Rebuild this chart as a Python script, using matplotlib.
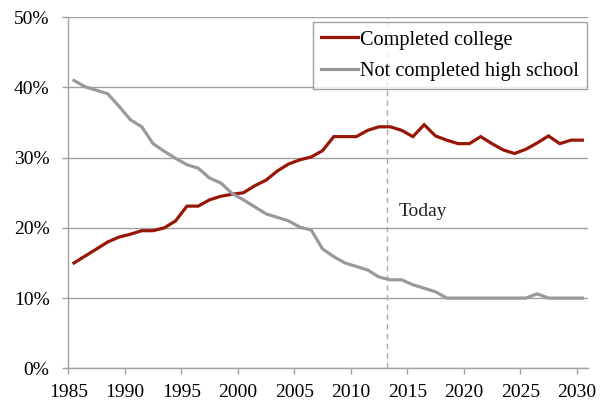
import matplotlib
matplotlib.use("Agg")
import matplotlib.pyplot as plt
import matplotlib.ticker as ticker

# data (percent of population)
years = list(range(1985, 2031))
completed_college = [15.0, 16.0, 17.0, 18.0, 18.7, 19.1, 19.6, 19.6, 20.0, 21.0,
                     23.1, 23.1, 24.0, 24.5, 24.8, 25.0, 26.0, 26.8, 28.1, 29.1,
                     29.7, 30.1, 31.0, 33.0, 33.0, 33.0, 33.9, 34.4, 34.4, 33.9,
                     33.0, 34.7, 33.1, 32.5, 32.0, 32.0, 33.0, 32.0, 31.1, 30.6,
                     31.2, 32.1, 33.1, 32.0, 32.5, 32.5]
no_high_school = [41.0, 40.1, 39.6, 39.1, 37.3, 35.4, 34.4, 32.0, 30.9, 29.9,
                  29.0, 28.5, 27.1, 26.4, 24.9, 24.0, 23.0, 22.0, 21.5, 21.0,
                  20.1, 19.7, 17.0, 15.9, 15.0, 14.5, 14.0, 13.0, 12.6, 12.6,
                  11.9, 11.4, 10.9, 10.0, 10.0, 10.0, 10.0, 10.0, 10.0, 10.0,
                  10.0, 10.6, 10.0, 10.0, 10.0, 10.0]
year_ticks = list(range(1985, 2031, 5))
today_year = 2013.25

plt.rcParams['font.family'] = ['Liberation Serif', 'DejaVu Serif']

red = '#981606'
grey = '#999999'
axis_grey = '#a0a0a0'

fig = plt.figure(figsize=(6.05, 4.04), dpi=100)
ax = fig.add_axes([0.1129, 0.0884, 0.8590, 0.8688])

# points sit in the middle of each year slot (category axis style)
x = [y + 0.5 for y in years]
ax.plot(x, completed_college, color=red, lw=2.3, label='Completed college',
        solid_joinstyle='miter', zorder=3)
ax.plot(x, no_high_school, color=grey, lw=2.3, label='Not completed high school',
        solid_joinstyle='miter', zorder=3)

# "today" marker
ax.axvline(today_year, color='#aaaaaa', lw=1.0, ls=(0, (4, 3)), zorder=2)
ax.text(today_year + 1.0, 22.4, 'Today', fontsize=14, color='#222222',
        ha='left', va='center')

ax.set_xlim(1985, 2031)
ax.set_ylim(0, 50)
ax.set_xticks(year_ticks)
ax.set_yticks([0, 10, 20, 30, 40, 50])
ax.yaxis.set_major_formatter(ticker.PercentFormatter(decimals=0))

ax.grid(axis='y', color=axis_grey, lw=1.0, zorder=0)
ax.set_axisbelow(True)
for side in ['top', 'right']:
    ax.spines[side].set_visible(False)
for side in ['left', 'bottom']:
    ax.spines[side].set_color(axis_grey)
    ax.spines[side].set_linewidth(1.0)

ax.tick_params(axis='both', direction='out', length=4, width=1.0, color=axis_grey,
               labelsize=14, labelcolor='black')
ax.tick_params(axis='y', pad=9.5)
ax.tick_params(axis='x', pad=7)

leg = ax.legend(loc='upper right', bbox_to_anchor=(0.998, 0.987), borderaxespad=0,
                fontsize=14.6, frameon=True, fancybox=False, handlelength=1.8,
                handletextpad=0.1, labelspacing=0.6, borderpad=0.42)
leg.get_frame().set_edgecolor('#888888')
leg.get_frame().set_linewidth(1.0)

fig.savefig('out.png', dpi=100)
